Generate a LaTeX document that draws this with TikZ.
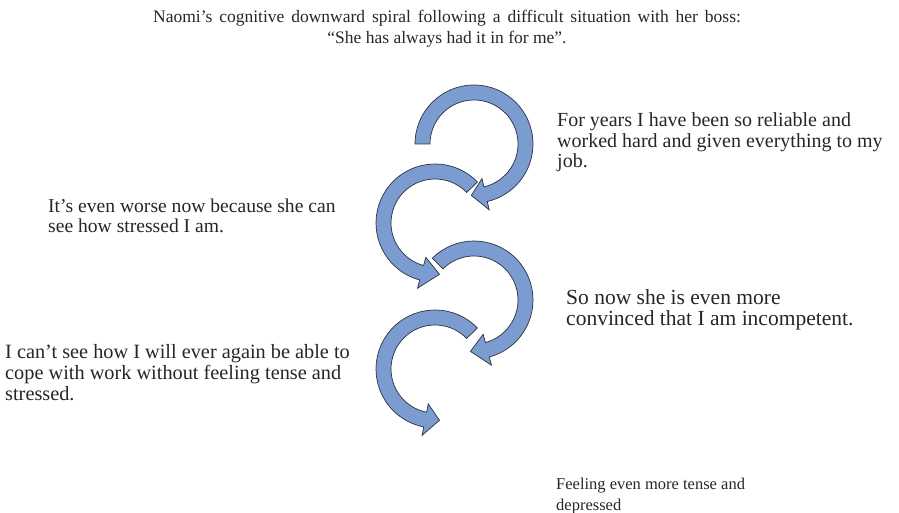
\documentclass[tikz,border=0pt]{standalone}
\usepackage{fontspec}
\setmainfont{Liberation Serif}
\usetikzlibrary{calc}
\definecolor{arrowfill}{RGB}{123,156,208}
\definecolor{arrowline}{RGB}{45,50,60}
\tikzset{
  curl/.style={fill=arrowfill, draw=arrowline, line width=0.7pt, line join=miter},
  caption/.style={inner sep=0pt, anchor=base west, align=left, text=black!85},
  fs/.style 2 args={font=\fontsize{#1}{#2}\selectfont}
}
% curved block arrow: centre, tail angle, head-base angle, tip angle
\newcommand\curlarrow[4]{%
  \draw[curl] ($(#1)+(#2:59)$) arc[start angle=#2, end angle=#3, radius=59]
    -- ($(#1)+(#3:67.5)$) -- ($(#1)+(#4:51.5)$) -- ($(#1)+(#3:35.5)$)
    -- ($(#1)+(#3:44)$) arc[start angle=#3, end angle=#2, radius=44] -- cycle;}
\begin{document}
\begin{tikzpicture}[x=1pt, y=1pt]
\useasboundingbox (0,0) rectangle (899,512);

% multi-line nodes: the base anchor sits on the last line
\node[caption, fs={17.5}{21}, anchor=base, align=center] (title) at (447,468.5)
  {{\spaceskip=6.9pt plus 1pt\relax Naomi’s cognitive downward spiral following a difficult situation with her boss:}\\
   “She has always had it in for me”.};

\coordinate (c1) at (474,368);
\coordinate (c2) at (435,289);
\coordinate (c3) at (474,212);
\coordinate (c4) at (435,143);

\curlarrow{c1}{180}{-77}{-93}
\curlarrow{c2}{44}{255}{275}
\curlarrow{c3}{135}{-75}{-94}
\curlarrow{c4}{44}{259}{275}

\node[caption, fs={20}{20.5}] (t1) at (557,344)
  {For years I have been so reliable and\\worked hard and given everything to my\\job.};
\node[caption, fs={19.6}{21}] (t2) at (48,279)
  {It’s even worse now because she can\\see how stressed I am.};
\node[caption, fs={21.5}{21}] (t3) at (566,186.5)
  {So now she is even more\\convinced that I am incompetent.};
\node[caption, fs={20.3}{21}] (t4) at (5,112)
  {I can’t see how I will ever again be able to\\cope with work without feeling tense and\\stressed.};
\node[caption, fs={16.5}{21}] (t5) at (556,2)
  {Feeling even more tense and\\depressed};
\end{tikzpicture}
\end{document}
